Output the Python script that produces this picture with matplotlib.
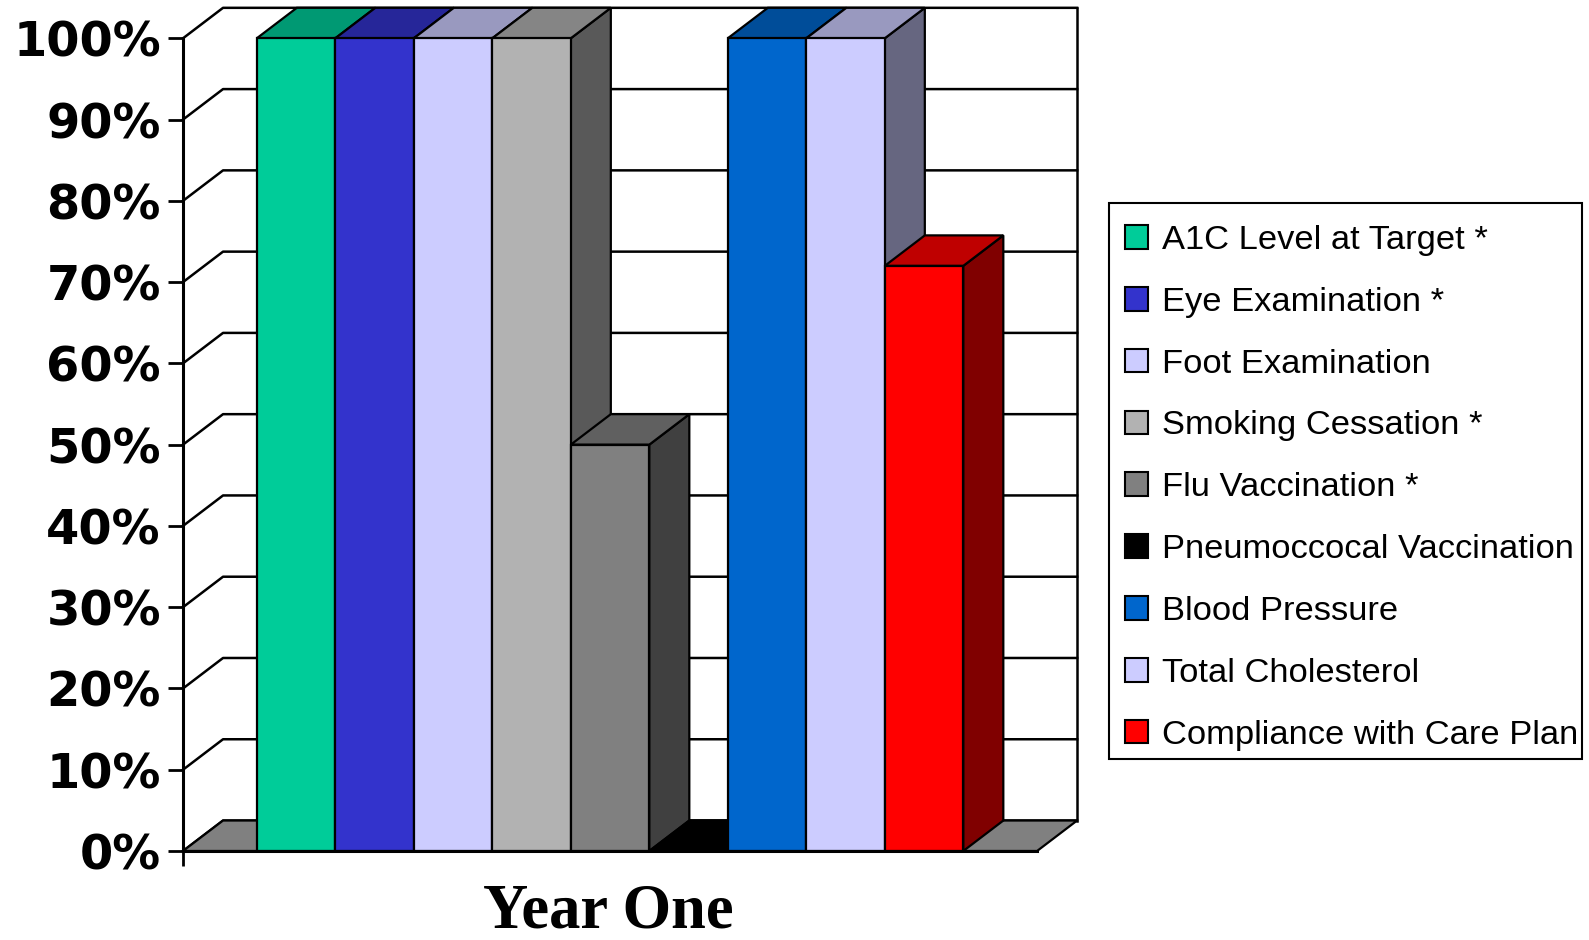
import matplotlib
matplotlib.use("Agg")
import matplotlib.pyplot as plt
from matplotlib.colors import to_rgb
from matplotlib.patches import Patch, Polygon, Rectangle

# 데이터: 항목별 목표 달성률(%)
categories = [
    "A1C Level at Target *",
    "Eye Examination *",
    "Foot Examination",
    "Smoking Cessation *",
    "Flu Vaccination *",
    "Pneumoccocal Vaccination",
    "Blood Pressure",
    "Total Cholesterol",
    "Compliance with Care Plan",
]
values = [100, 100, 100, 100, 50, 0, 100, 100, 72]
bar_colors = ["#00CC99", "#3333CC", "#CCCCFF", "#B2B2B2", "#808080",
              "#000000", "#0066CC", "#CCCCFF", "#FF0000"]
group_label = "Year One"
y_ticks = list(range(0, 101, 10))
y_tick_labels = [f"{v}%" for v in y_ticks]

W, H, DPI = 1589, 940, 100
GAP = 0.94          # 바닥 양쪽 여백 (막대 폭 단위)
DEPTH_X = 0.51      # 3D 깊이: x 방향 (막대 폭 단위)
DEPTH_Y = 3.75      # 3D 깊이: y 방향 (% 단위)
LW = 1.6


def shade(color, factor):
    r, g, b = to_rgb(color)
    return (r * factor, g * factor, b * factor)


fig = plt.figure(figsize=(W / DPI, H / DPI), dpi=DPI)
x_max = 2 * GAP + len(values)
ax = fig.add_axes([183 / W, (H - 851) / H, x_max * 78.5 / W, 812.7 / H])
ax.set_xlim(0, x_max)
ax.set_ylim(0, 100)
for side in ("top", "right"):
    ax.spines[side].set_visible(False)
for side in ("left", "bottom"):
    ax.spines[side].set_linewidth(2.2)
    ax.spines[side].set_zorder(6)

# 왼쪽 벽과 뒷벽 눈금선
for v in y_ticks:
    ax.plot([0, DEPTH_X, x_max + DEPTH_X], [v, v + DEPTH_Y, v + DEPTH_Y],
            color="black", lw=1.8, clip_on=False, zorder=1)
ax.plot([x_max + DEPTH_X] * 2, [DEPTH_Y, 100 + DEPTH_Y],
        color="black", lw=1.8, clip_on=False, zorder=1)

# 바닥
ax.add_patch(Polygon([(0, 0), (x_max, 0), (x_max + DEPTH_X, DEPTH_Y), (DEPTH_X, DEPTH_Y)],
                     closed=True, facecolor="#808080", edgecolor="black", lw=LW,
                     clip_on=False, zorder=2))

# 막대: 왼쪽부터 옆면, 윗면, 앞면 순으로 그린다
for i, (v, c) in enumerate(zip(values, bar_colors)):
    x0 = GAP + i
    x1 = x0 + 1
    side = [(x1, 0), (x1 + DEPTH_X, DEPTH_Y), (x1 + DEPTH_X, v + DEPTH_Y), (x1, v)]
    top = [(x0, v), (x1, v), (x1 + DEPTH_X, v + DEPTH_Y), (x0 + DEPTH_X, v + DEPTH_Y)]
    front = [(x0, 0), (x1, 0), (x1, v), (x0, v)]
    z = 3 + i * 0.01
    if v > 0:
        ax.add_patch(Polygon(side, closed=True, facecolor=shade(c, 0.5), edgecolor="black",
                             lw=LW, clip_on=False, zorder=z))
    ax.add_patch(Polygon(top, closed=True, facecolor=shade(c, 0.75), edgecolor="black",
                         lw=LW, clip_on=False, zorder=z))
    if v > 0:
        ax.add_patch(Polygon(front, closed=True, facecolor=c, edgecolor="black",
                             lw=LW, clip_on=False, zorder=z))

ax.set_yticks(y_ticks)
ax.set_yticklabels(y_tick_labels, fontsize=34.5, fontweight="bold", family="DejaVu Sans")
ax.tick_params(axis="y", length=11, width=2, pad=5, direction="out")
ax.set_xticks([0])
ax.set_xticklabels([""])
ax.tick_params(axis="x", length=11, width=2, direction="out")
ax.set_facecolor("none")

fig.text(608.5 / W, 1 - 927 / H, group_label, ha="center", va="baseline",
         family="Liberation Serif", fontweight="bold", fontsize=45)

# 범례: 테두리는 따로 그리고 항목만 legend로 배치
handles = [Patch(facecolor=c, edgecolor="black", lw=1.5) for c in bar_colors]
leg = fig.legend(handles, categories, loc="upper left",
                 bbox_to_anchor=(1125 / W, 1 - 225 / H), bbox_transform=fig.transFigure,
                 frameon=False, prop={"family": "Liberation Sans", "size": 24.8},
                 handlelength=0.68, handleheight=0.68, handletextpad=0.38,
                 labelspacing=0.895, borderpad=0, borderaxespad=0)
fig.add_artist(Rectangle((1109 / W, 1 - 759 / H), 473 / W, 556 / H,
                         transform=fig.transFigure, fill=False, edgecolor="black", lw=1.5))

fig.savefig("out.png", dpi=DPI)
